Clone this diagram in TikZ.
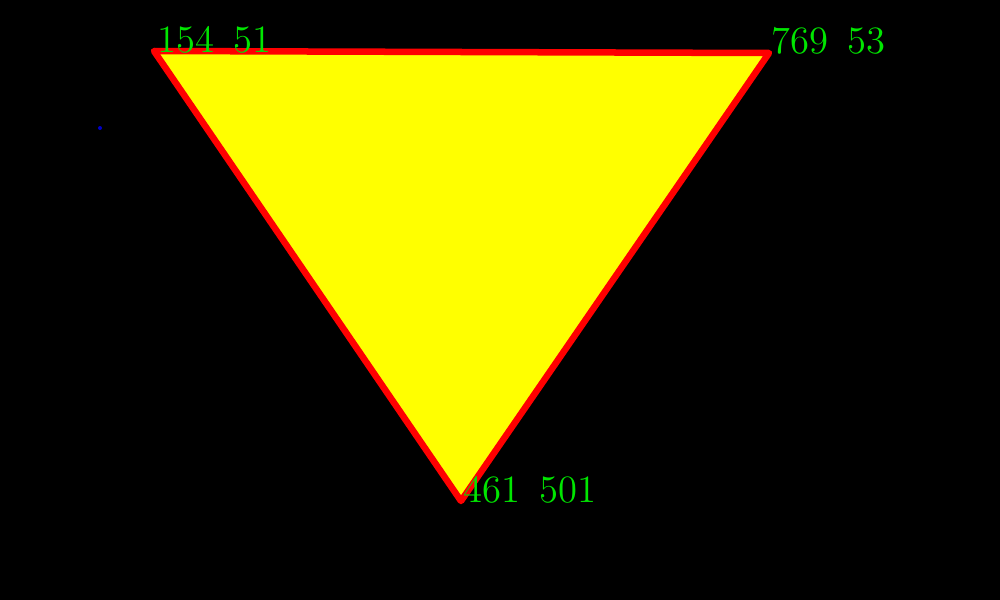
\documentclass[tikz,border=0pt]{standalone}
\usepackage{xcolor}
\definecolor{lblgreen}{RGB}{0,230,0}
\definecolor{dotblue}{RGB}{0,0,200}
\definecolor{triyellow}{RGB}{255,255,0}
\definecolor{trired}{RGB}{255,0,0}
\begin{document}
\begin{tikzpicture}[x=0.01cm,y=-0.01cm,
  lbl/.style={text=lblgreen,font=\fontsize{11}{13}\selectfont,inner sep=0pt,anchor=base west}]
\fill[black] (0,0) rectangle (1000,600);
\useasboundingbox (0,0) rectangle (1000,600);
\coordinate (A) at (154,51);
\coordinate (B) at (769,53);
\coordinate (C) at (461,501);
\filldraw[fill=triyellow,draw=trired,line width=0.065cm,line join=round] (A) -- (B) -- (C) -- cycle;
\fill[dotblue] (100,128) circle (2);
\node[lbl] (la) at (157,52) {154\hspace{0.5em}51};
\node[lbl] (lb) at (771,54) {769\hspace{0.5em}53};
\node[lbl] (lc) at (463,502) {461\hspace{0.5em}501};
\end{tikzpicture}
\end{document}
